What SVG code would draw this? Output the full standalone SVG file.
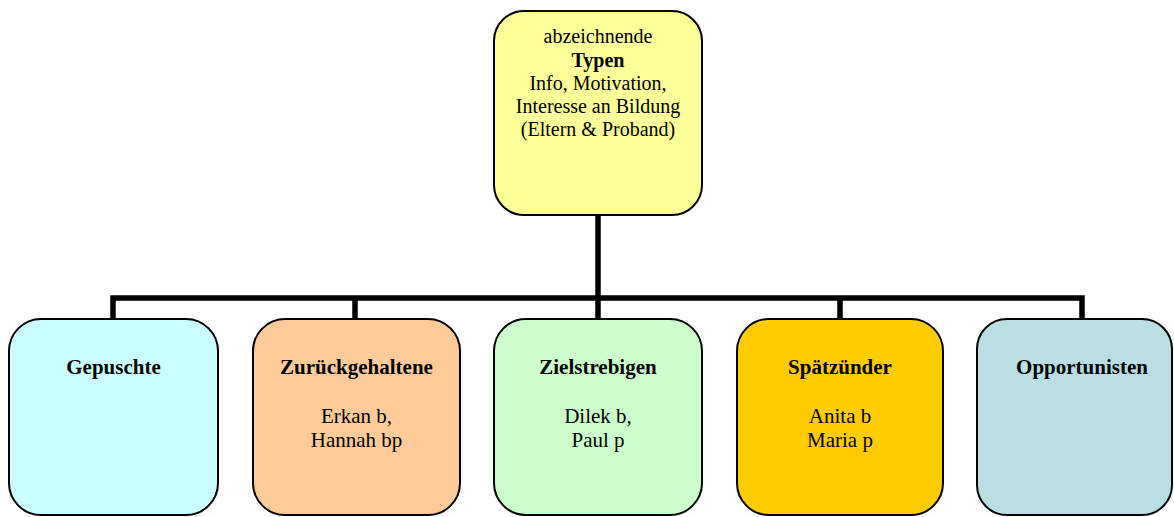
<svg xmlns="http://www.w3.org/2000/svg" width="1174" height="517" viewBox="0 0 1174 517">
  <style>
    .box { stroke: #000; stroke-width: 2; }
    .t { font-family: "Liberation Serif", "Times New Roman", serif; font-size: 21px; fill: #000; text-anchor: middle; }
    .top { font-size: 20px; }
    .b { font-weight: bold; }
    .wire { fill: none; stroke: #000; stroke-width: 5.5; stroke-linejoin: miter; }
  </style>
  <rect width="1174" height="517" fill="#fff"/>

  <!-- connectors -->
  <g id="connectors">
    <path class="wire" d="M598,215 V298"/>
    <path class="wire" d="M113,319 V298 H1082 V319"/>
    <path class="wire" d="M355,298 V319"/>
    <path class="wire" d="M598,298 V319"/>
    <path class="wire" d="M840,298 V319"/>
  </g>

  <!-- root -->
  <g id="typen">
    <rect class="box" x="494" y="11" width="208" height="204" rx="30" fill="#FFFF99"/>
    <text class="t top" x="598" y="43">abzeichnende</text>
    <text class="t top b" x="598" y="67">Typen</text>
    <text class="t top" x="598" y="90">Info, Motivation,</text>
    <text class="t top" x="598" y="113">Interesse an Bildung</text>
    <text class="t top" x="598" y="136">(Eltern &amp; Proband)</text>
  </g>

  <!-- children -->
  <g id="gepuschte">
    <rect class="box" x="9" y="319" width="209" height="196" rx="32" fill="#CCFFFF"/>
    <text class="t b" x="113.5" y="374">Gepuschte</text>
  </g>

  <g id="zurueckgehaltene">
    <rect class="box" x="253" y="319" width="207" height="196" rx="32" fill="#FFCC99"/>
    <text class="t b" x="356.5" y="374">Zurückgehaltene</text>
    <text class="t" x="356.5" y="423">Erkan b,</text>
    <text class="t" x="356.5" y="447">Hannah bp</text>
  </g>

  <g id="zielstrebigen">
    <rect class="box" x="494" y="319" width="208" height="196" rx="32" fill="#CCFFCC"/>
    <text class="t b" x="598" y="374">Zielstrebigen</text>
    <text class="t" x="598" y="423">Dilek b,</text>
    <text class="t" x="598" y="447">Paul p</text>
  </g>

  <g id="spaetzuender">
    <rect class="box" x="737" y="319" width="206" height="196" rx="32" fill="#FFCC00"/>
    <text class="t b" x="840" y="374">Spätzünder</text>
    <text class="t" x="840" y="423">Anita b</text>
    <text class="t" x="840" y="447">Maria p</text>
  </g>

  <g id="opportunisten">
    <rect class="box" x="977" y="319" width="195" height="196" rx="30" fill="#B9DFE4"/>
    <text class="t b" x="1082" y="374">Opportunisten</text>
  </g>
</svg>
